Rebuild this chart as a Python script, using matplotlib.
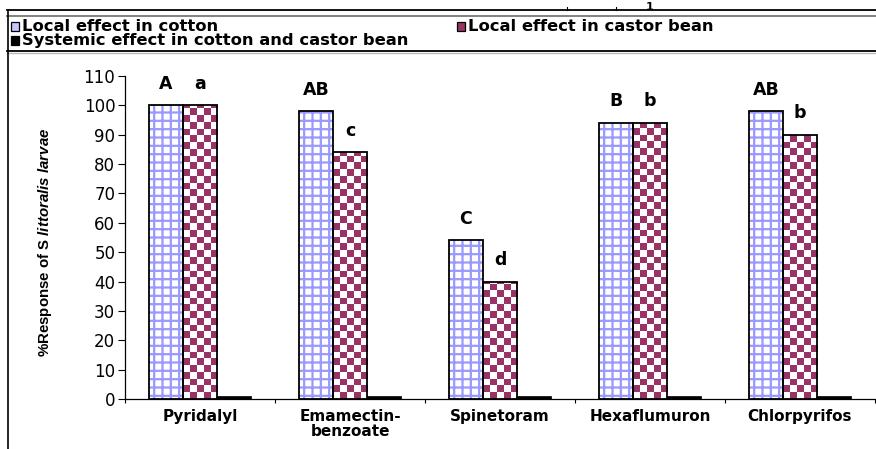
import numpy as np
import matplotlib
matplotlib.use("Agg")
import matplotlib.pyplot as plt
from matplotlib.colors import ListedColormap
from matplotlib.patches import Rectangle
from matplotlib.lines import Line2D

# ---- data ----
categories = ["Pyridalyl", "Emamectin-\nbenzoate", "Spinetoram", "Hexaflumuron", "Chlorpyrifos"]
local_cotton = [100, 98, 54, 94, 98]
local_castor = [100, 84, 40, 94, 90]
systemic = [1, 1, 1, 1, 1]
letters_cotton = ["A", "AB", "C", "B", "AB"]
letters_castor = ["a", "c", "d", "b", "b"]
yticks = list(range(0, 111, 10))
series_names = ["Local effect in cotton", "Local effect in castor bean",
                "Systemic effect in cotton and castor bean"]

plt.rcParams['font.family'] = ['DejaVu Sans']
plt.rcParams['hatch.linewidth'] = 1.6
plt.rcParams['mathtext.fontset'] = 'custom'
plt.rcParams['mathtext.it'] = 'Liberation Sans:italic:bold'
plt.rcParams['mathtext.rm'] = 'Liberation Sans:bold'

W, H = 876, 449
fig = plt.figure(figsize=(W / 100, H / 100), dpi=100)
ax = fig.add_axes([125 / W, 50 / H, 750 / W, 323 / H])

cotton_col = '#9999FF'
castor_col = '#993366'
bw = 0.227
x = np.arange(len(categories))

# cotton: blue grid hatch, then black outline
ax.bar(x - bw, local_cotton, bw, facecolor='white', edgecolor=cotton_col,
       hatch='++', linewidth=0, zorder=2)
ax.bar(x - bw, local_cotton, bw, fill=False, edgecolor='black', linewidth=1.3, zorder=4,
       label=series_names[0])

# castor: checkerboard clipped to bars
castor_bars = ax.bar(x, local_castor, bw, fill=False, edgecolor='black',
                     linewidth=1.3, zorder=4, label=series_names[1])
cmap = ListedColormap(['white', castor_col])
cell_y = 2.3
ncols = 5
for b in castor_bars:
    x0 = b.get_x()
    h = b.get_height()
    nrows = int(np.ceil(h / cell_y))
    arr = (np.add.outer(np.arange(nrows), np.arange(ncols)) % 2).astype(float)
    im = ax.imshow(arr, cmap=cmap, extent=(x0, x0 + bw, 0, nrows * cell_y),
                   origin='lower', aspect='auto', interpolation='nearest',
                   zorder=3, vmin=0, vmax=1)
    im.set_clip_path(b)

# systemic
ax.bar(x + bw, systemic, bw, color='black', edgecolor='black', linewidth=0.5, zorder=4,
       label=series_names[2])

# letters
lfont = dict(fontsize=12.5, fontweight='bold', family='DejaVu Sans')
for i in range(len(categories)):
    ax.annotate(letters_cotton[i], (x[i] - bw, local_cotton[i]), xytext=(0, 9),
                textcoords='offset points', ha='center', va='bottom', **lfont)
    ax.annotate(letters_castor[i], (x[i], local_castor[i]), xytext=(0, 9),
                textcoords='offset points', ha='center', va='bottom', **lfont)

ax.set_xlim(-0.5, len(categories) - 0.5)
ax.set_ylim(0, 110)
ax.set_yticks(yticks)
ax.tick_params(axis='y', direction='out', length=5, width=0.8, pad=2, labelsize=12)
ax.set_xticks(np.arange(len(categories) + 1) - 0.5)
ax.set_xticklabels([])
ax.tick_params(axis='x', which='major', direction='out', length=3, width=0.8)
ax.set_xticks(x, minor=True)
ax.set_xticklabels(categories, minor=True, fontsize=11, fontweight='bold',
                   linespacing=1.0)
ax.tick_params(axis='x', which='minor', length=0, pad=7)
for s in ['top', 'right']:
    ax.spines[s].set_visible(False)
for s in ['left', 'bottom']:
    ax.spines[s].set_linewidth(0.9)

fig.text(45 / W, 1 - 242 / H, r"%Response of S $\mathit{littoralis\ larvae}$",
         rotation=90, ha='center', va='center', fontsize=10.8, fontweight='bold',
         family='Liberation Sans')

# ---- legend (laid out in figure pixels) ----
def fx(px):
    return px / W

def fy(py):
    return 1 - py / H

leg_items = [
    (series_names[0], 11, 31, dict(facecolor='#c4c4ff')),
    (series_names[1], 457, 31, dict(facecolor=castor_col)),
    (series_names[2], 11, 44.5, dict(facecolor='black')),
]
for name, mx, base, style in leg_items:
    fig.add_artist(Rectangle((fx(mx), fy(base)), 8 / W, 9 / H, transform=fig.transFigure,
                             edgecolor='black', linewidth=0.9, **style))
    fig.text(fx(mx + 11), fy(base), name, fontsize=11.8, fontweight='bold',
             ha='left', va='baseline')

# page frame lines
def hline(y, x0, x1, color, lw):
    fig.add_artist(Line2D([fx(x0), fx(x1)], [fy(y), fy(y)], color=color,
                          linewidth=lw, transform=fig.transFigure))

hline(9.5, 7, 876, 'black', 1.3)
hline(15.5, 7, 876, '#777777', 1.3)
hline(50.5, 7, 876, 'black', 1.3)
hline(52.5, 7, 876, '#bbbbbb', 1.0)
fig.add_artist(Line2D([fx(7.5), fx(7.5)], [fy(9.5), 0], color='black',
                      linewidth=1.2, transform=fig.transFigure))
for tx in (567, 616):
    fig.add_artist(Line2D([fx(tx), fx(tx)], [fy(9.5), fy(6.5)], color='black',
                          linewidth=0.8, transform=fig.transFigure))
fig.text(fx(650), fy(9.5), "1", fontsize=8, fontweight='bold', ha='center', va='baseline')

fig.savefig("out.png", dpi=100)
